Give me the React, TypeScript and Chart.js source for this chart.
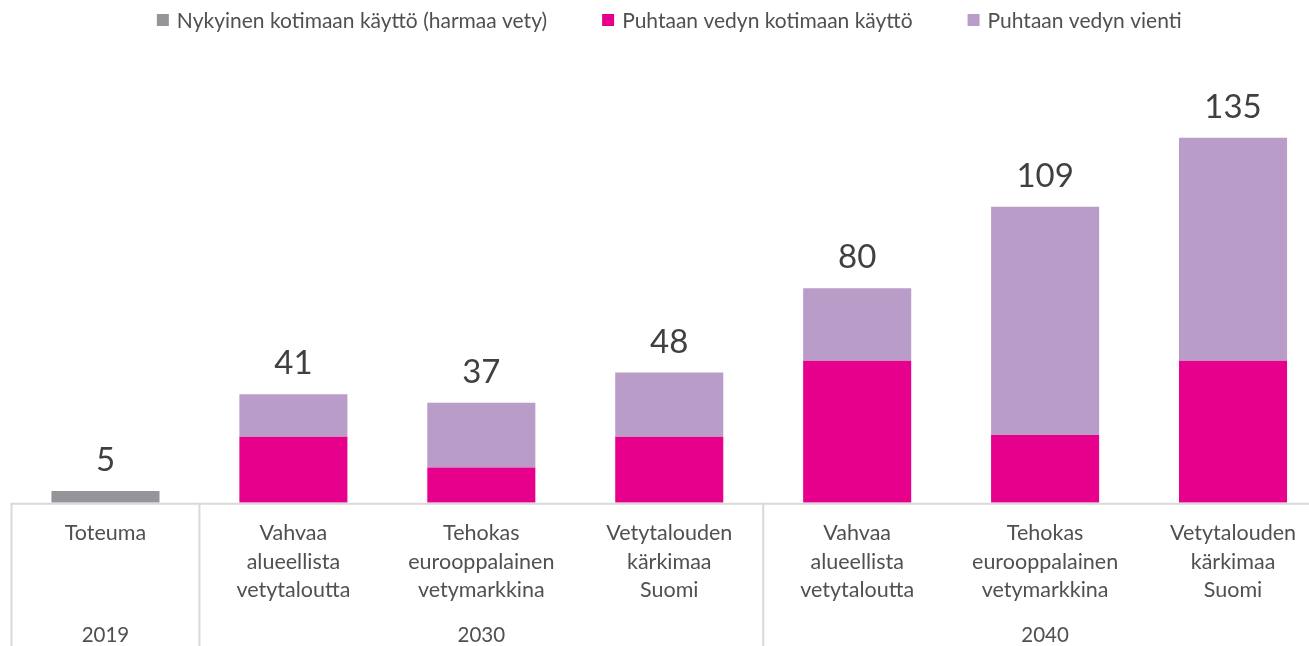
import React, { useEffect, useRef } from "react";
import { Chart, registerables } from "chart.js";

Chart.register(...registerables);

const categories: string[][] = [
  ["Toteuma"],
  ["Vahvaa", "alueellista", "vetytaloutta"],
  ["Tehokas", "eurooppalainen", "vetymarkkina"],
  ["Vetytalouden", "kärkimaa", "Suomi"],
  ["Vahvaa", "alueellista", "vetytaloutta"],
  ["Tehokas", "eurooppalainen", "vetymarkkina"],
  ["Vetytalouden", "kärkimaa", "Suomi"],
];
const years = ["2019", "2030", "2040"];
const yearSpans = [1, 3, 3];

const greyDomestic = [4.3, null, null, null, null, null, null];
const cleanDomestic = [null, 24.4, 13, 24.4, 52.5, 25, 52.5];
const cleanExport = [null, 15.7, 24, 23.7, 26.8, 84.4, 82.4];
const totalLabels = ["5", "41", "37", "48", "80", "109", "135"];

const seriesNames = [
  "Nykyinen kotimaan käyttö (harmaa vety)",
  "Puhtaan vedyn kotimaan käyttö",
  "Puhtaan vedyn vienti",
];
const seriesColors = ["#939598", "#E6008C", "#B99CC8"];

const FONT = "Lato, 'Open Sans', sans-serif";
const TEXT = "#505050";
const LINE = "#D9D9D9";

const decorPlugin = {
  id: "decor",
  afterDraw(chart: any) {
    const { ctx, chartArea, scales } = chart;
    const x = scales.x;
    const y = scales.y;
    const n = categories.length;
    const cw = (chartArea.right - chartArea.left) / n;
    ctx.save();

    // axis line and group separators
    ctx.strokeStyle = LINE;
    ctx.lineWidth = 2;
    const by = chartArea.bottom + 1;
    ctx.beginPath();
    ctx.moveTo(chartArea.left, by);
    ctx.lineTo(chart.width, by);
    ctx.stroke();
    let idx = 0;
    const bounds = [0];
    yearSpans.forEach((s) => {
      idx += s;
      bounds.push(idx);
    });
    bounds.forEach((b) => {
      const px = chartArea.left + b * cw;
      ctx.beginPath();
      ctx.moveTo(px, chartArea.bottom);
      ctx.lineTo(px, chart.height);
      ctx.stroke();
    });

    // year labels
    ctx.fillStyle = TEXT;
    ctx.font = `20.5px ${FONT}`;
    ctx.textAlign = "center";
    ctx.textBaseline = "alphabetic";
    let start = 0;
    years.forEach((yr, i) => {
      const end = start + yearSpans[i];
      const cx = (x.getPixelForValue(start) + x.getPixelForValue(end - 1)) / 2;
      ctx.fillText(yr, cx, 642);
      start = end;
    });

    // totals above bars
    ctx.fillStyle = "#404040";
    ctx.font = `33px ${FONT}`;
    for (let i = 0; i < n; i++) {
      const sum =
        (greyDomestic[i] || 0) + (cleanDomestic[i] || 0) + (cleanExport[i] || 0);
      const py = y.getPixelForValue(sum);
      ctx.fillText(totalLabels[i], x.getPixelForValue(i), py - 20);
    }

    // legend
    ctx.font = `21px ${FONT}`;
    ctx.textAlign = "left";
    ctx.textBaseline = "middle";
    const box = 12;
    const gapBoxText = 8;
    const gapItems = 55;
    const widths = seriesNames.map((s) => box + gapBoxText + ctx.measureText(s).width);
    const total = widths.reduce((a, b) => a + b, 0) + gapItems * (widths.length - 1);
    let lx = (chartArea.left + chartArea.right) / 2 - total / 2;
    const ly = 20;
    seriesNames.forEach((s, i) => {
      ctx.fillStyle = seriesColors[i];
      ctx.fillRect(lx, ly - 6, box, box);
      ctx.fillStyle = TEXT;
      ctx.fillText(s, lx + box + gapBoxText, ly + 1);
      lx += widths[i] + gapItems;
    });
    ctx.restore();
  },
};

export default function App() {
  const ref = useRef<HTMLCanvasElement | null>(null);
  useEffect(() => {
    if (!ref.current) return;
    const datasets = [greyDomestic, cleanDomestic, cleanExport].map((d, i) => ({
      label: seriesNames[i],
      data: d,
      backgroundColor: seriesColors[i],
      borderWidth: 0,
      categoryPercentage: 1,
      barPercentage: 0.575,
    }));
    const chart = new Chart(ref.current, {
      type: "bar",
      data: { labels: categories, datasets: datasets as any },
      options: {
        animation: false,
        responsive: true,
        maintainAspectRatio: false,
        layout: { padding: { left: 11.5, right: 3, top: 97, bottom: 33.5 } },
        plugins: { legend: { display: false }, tooltip: { enabled: false } },
        scales: {
          x: {
            stacked: true,
            grid: { display: false },
            border: { display: false },
            ticks: {
              autoSkip: false,
              maxRotation: 0,
              minRotation: 0,
              padding: 8,
              color: TEXT,
              font: { family: FONT, size: 21.5, lineHeight: 1.33 },
            },
          },
          y: { stacked: true, display: false, min: 0, max: 150 },
        },
      },
      plugins: [decorPlugin],
    });
    return () => chart.destroy();
  }, []);
  return (
    <div
      style={{
        position: "fixed",
        left: 0,
        top: 0,
        width: "100vw",
        height: "100vh",
        overflow: "hidden",
        background: "#fff",
      }}
    >
      <div style={{ width: 1330, height: 646, position: "relative" }}>
        <canvas ref={ref} />
      </div>
    </div>
  );
}
